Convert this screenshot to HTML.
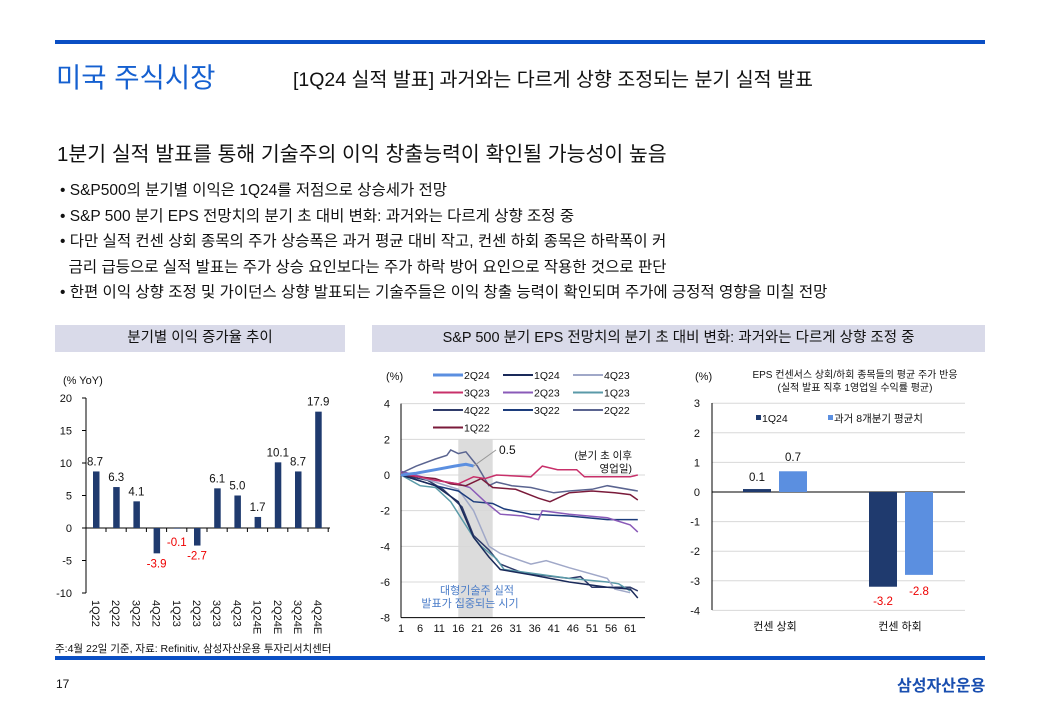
<!DOCTYPE html>
<html><head><meta charset="utf-8">
<style>
body{margin:0;width:1040px;height:720px;background:#fff;overflow:hidden;font-family:"Liberation Sans","Noto Sans CJK KR",sans-serif;color:#111;position:relative}
.a{position:absolute;white-space:nowrap}
svg{position:absolute;left:0;top:0}
svg text{font-family:"Liberation Sans","Noto Sans CJK KR",sans-serif}
</style></head><body>
<div class="a" style="left:55px;top:40px;width:930px;height:4px;background:#0a4fc4"></div>
<div class="a" style="left:56px;top:55px;font-size:27.5px;color:#1560d0">미국 주식시장</div>
<div class="a" style="left:293px;top:63px;font-size:19.5px">[1Q24 실적 발표] 과거와는 다르게 상향 조정되는 분기 실적 발표</div>
<div class="a" style="left:57px;top:137px;font-size:20.5px">1분기 실적 발표를 통해 기술주의 이익 창출능력이 확인될 가능성이 높음</div>
<div class="a" style="left:60px;top:178px;font-size:15.5px;line-height:25.5px">• S&amp;P500의 분기별 이익은 1Q24를 저점으로 상승세가 전망<br>• S&amp;P 500 분기 EPS 전망치의 분기 초 대비 변화: 과거와는 다르게 상향 조정 중<br>• 다만 실적 컨센 상회 종목의 주가 상승폭은 과거 평균 대비 작고, 컨센 하회 종목은 하락폭이 커<br>&nbsp;&nbsp;금리 급등으로 실적 발표는 주가 상승 요인보다는 주가 하락 방어 요인으로 작용한 것으로 판단<br>• 한편 이익 상향 조정 및 가이던스 상향 발표되는 기술주들은 이익 창출 능력이 확인되며 주가에 긍정적 영향을 미칠 전망</div>
<div class="a" style="left:55px;top:325px;width:290px;height:27px;background:#d9dae9;font-size:14.5px;text-align:center;line-height:27px">분기별 이익 증가율 추이</div>
<div class="a" style="left:372px;top:325px;width:613px;height:27px;background:#d9dae9;font-size:14.5px;text-align:center;line-height:27px">S&amp;P 500 분기 EPS 전망치의 분기 초 대비 변화: 과거와는 다르게 상향 조정 중</div>
<div class="a" style="left:55px;top:641px;font-size:10.5px">주:4월 22일 기준, 자료: Refinitiv, 삼성자산운용 투자리서치센터</div>
<div class="a" style="left:55px;top:656px;width:930px;height:4px;background:#0a4fc4"></div>
<div class="a" style="left:56px;top:677px;font-size:12px">17</div>
<div class="a" style="left:897px;top:672px;font-size:16px;font-weight:bold;color:#1a4fb0">삼성자산운용</div>
<svg id="s" width="1040" height="720"></svg>
<script>
var s='';
function T(x,y,t,o){o=o||{};s+='<text x="'+x+'" y="'+y+'" font-size="'+(o.fs||11)+'" fill="'+(o.c||'#111')+'" text-anchor="'+(o.a||'start')+'"'+(o.tr?' transform="'+o.tr+'"':'')+'>'+t+'</text>';}
function L(x1,y1,x2,y2,c,w){s+='<line x1="'+x1+'" y1="'+y1+'" x2="'+x2+'" y2="'+y2+'" stroke="'+(c||'#000')+'" stroke-width="'+(w||1)+'"/>';}
function R(x,y,w,h,c){if(h<0){y+=h;h=-h;}s+='<rect x="'+x+'" y="'+y+'" width="'+w+'" height="'+h+'" fill="'+c+'"/>';}
// Chart 1
var z1=528,k1=6.5;
T(63,384,'(% YoY)');
for(var v=20;v>=-10;v-=5){var y=z1-v*k1;T(72,y+4,v,{a:'end'});L(82,y,86,y);}
L(86,398,86,593);L(86,z1,330,z1);
var d1=[8.7,6.3,4.1,-3.9,-0.1,-2.7,6.1,5.0,1.7,10.1,8.7,17.9],lb=['1Q22','2Q22','3Q22','4Q22','1Q23','2Q23','3Q23','4Q23','1Q24E','2Q24E','3Q24E','4Q24E'];
d1.forEach(function(v,i){var cx=96+i*20.2;R(cx-3,z1,6.5,-v*k1,'#1f3a6e');
var ty=v>=0?z1-v*k1-6:z1-v*k1+14;var t=v.toFixed(1);if(i==4)ty=z1+18;
T(cx+(i==0?-1:0),ty,t,{a:'middle',fs:11.5,c:v<0?'#e00':'#111'});
L(cx+10,z1,cx+10,z1+4);
T(cx-4,600,lb[i],{fs:11,tr:'rotate(90 '+(cx-4)+' 600)'});});
// Chart 2
var X=function(d){return 401+(d-1)*3.82},Y=function(v){return 475-v*17.83};
R(X(16),Y(2),X(25)-X(16),Y(-8)-Y(2),'#dcdcdc');
for(var v=4;v>=-8;v-=2){T(390,Y(v)+4,v,{a:'end'});if(v>-8)L(401,Y(v),645,Y(v),'#d8d8d8');}
L(401,Y(4),401,Y(-8));L(401,Y(-8),645,Y(-8));
for(var d=1;d<=61;d+=5)T(X(d),632,d,{a:'middle'});
T(386,380,'(%)');
var ser=[
['#2f3b6a',[[1,0],[8,-0.3],[12,-0.8],[17,-1.8],[20,-3.4],[24,-4.2],[27,-5],[33,-5.5],[45,-5.8],[48,-5.7],[51,-6.3],[61,-6.3],[63,-6.5]],1.5],
['#5a9aa8',[[1,0],[6,-0.6],[10,-0.7],[14,-1.5],[17,-2.5],[20,-3.5],[22,-4],[26,-4.7],[28,-5.3],[35,-5.5],[45,-5.8],[55,-6],[58,-6.1],[61,-6.5]],1.5],
['#a0a8c8',[[1,0.2],[10,-0.4],[16,-0.8],[20,-2],[24,-4],[27,-4.4],[35,-5],[39,-4.8],[45,-5.2],[55,-5.8],[57,-6.4],[61,-6.6]],1.5],
['#1c3c7c',[[1,0],[10,-0.6],[16,-0.9],[20,-1.5],[25,-1.6],[28,-1.9],[35,-2.2],[45,-2.3],[55,-2.5],[63,-2.5]],1.5],
['#8a5ab8',[[1,0.2],[10,-0.3],[16,-0.5],[19,-0.7],[23,-1.5],[27,-2.2],[33,-2.3],[37,-2.5],[38,-2],[45,-2.2],[55,-2.4],[61,-2.8],[63,-3.2]],1.5],
['#5a6490',[[1,0.1],[5,0.5],[10,0.9],[13,1.1],[14,1.4],[16,1.2],[18,1.3],[21,0.5],[24,-0.6],[26,-0.4],[30,-0.6],[35,-0.7],[41,-1],[45,-0.9],[51,-0.8],[55,-0.6],[63,-0.9]],1.5],
['#7a1a3a',[[1,0],[10,-0.2],[14,-0.5],[18,-0.6],[22,-0.2],[25,-0.7],[31,-0.8],[37,-1.3],[40,-1.5],[45,-1],[51,-0.9],[57,-1],[61,-1.1],[63,-1.4]],1.5],
['#c8306a',[[1,0.1],[10,-0.3],[16,-0.5],[20,-0.1],[23,-0.2],[26,0],[35,-0.1],[38,0.5],[42,0.3],[47,0.3],[49,-0.1],[61,-0.1],[63,0]],1.5],
['#1a2a5a',[[1,0],[10,-0.6],[16,-1.5],[20,-3.5],[24,-4.6],[27,-5.3],[35,-5.6],[45,-6],[55,-6.3],[61,-6.4],[63,-6.9]],1.5],
['#5b8fe0',[[1,0],[5,0.1],[10,0.3],[15,0.5],[18,0.6],[20,0.5]],3]];
ser.forEach(function(q){s+='<polyline fill="none" stroke="'+q[0]+'" stroke-width="'+q[2]+'" points="'+q[1].map(function(p){return X(p[0]).toFixed(1)+','+Y(p[1]).toFixed(1)}).join(' ')+'"/>';});
L(X(20),Y(0.5),496,450,'#999');T(499,454,'0.5',{fs:12});
T(632,459,'(분기 초 이후',{a:'end',fs:10.5});T(632,472,'영업일)',{a:'end',fs:10.5});
T(477,594,'대형기술주 실적',{a:'middle',fs:11,c:'#4a7cc8'});T(470,607,'발표가 집중되는 시기',{a:'middle',fs:11,c:'#4a7cc8'});
var lg=[['2Q24','#5b8fe0',3],['1Q24','#1a2a5a',2],['4Q23','#a0a8c8',2],['3Q23','#c8306a',2],['2Q23','#8a5ab8',2],['1Q23','#5a9aa8',2],['4Q22','#2f3b6a',2],['3Q22','#1c3c7c',2],['2Q22','#5a6490',2],['1Q22','#7a1a3a',2]];
lg.forEach(function(g,i){var cx=433+(i%3)*70,cy=375+Math.floor(i/3)*17.5;L(cx,cy,cx+30,cy,g[1],g[2]);T(cx+31,cy+4,g[0],{fs:10.5});});
// Chart 3
var z3=492,k3=29.6;
T(695,380,'(%)');T(855,378,'EPS 컨센서스 상회/하회 종목들의 평균 주가 반응',{a:'middle',fs:10});T(855,391,'(실적 발표 직후 1영업일 수익률 평균)',{a:'middle',fs:10});
for(var v=3;v>=-4;v--){var y=z3-v*k3;T(700,y+4,v,{a:'end'});if(v!=0)L(712,y,965,y,'#d8d8d8');}
L(712,403,712,610);L(712,z3,965,z3);
R(743,z3,28,-0.1*k3,'#1f3a6e');R(779,z3,28,-0.7*k3,'#5b8fe0');R(869,z3,28,3.2*k3,'#1f3a6e');R(905,z3,28,2.8*k3,'#5b8fe0');
T(757,481,'0.1',{a:'middle',fs:11.5});T(793,461,'0.7',{a:'middle',fs:11.5});T(883,605,'-3.2',{a:'middle',fs:11.5,c:'#e00'});T(919,595,'-2.8',{a:'middle',fs:11.5,c:'#e00'});
R(756,415,5,5,'#1f3a6e');T(762,422,'1Q24',{fs:10.5});R(828,415,5,5,'#5b8fe0');T(834,422,'과거 8개분기 평균치',{fs:10.5});
T(775,630,'컨센 상회',{a:'middle',fs:11});T(900,630,'컨센 하회',{a:'middle',fs:11});
document.getElementById('s').innerHTML=s;
</script>
</body></html>
